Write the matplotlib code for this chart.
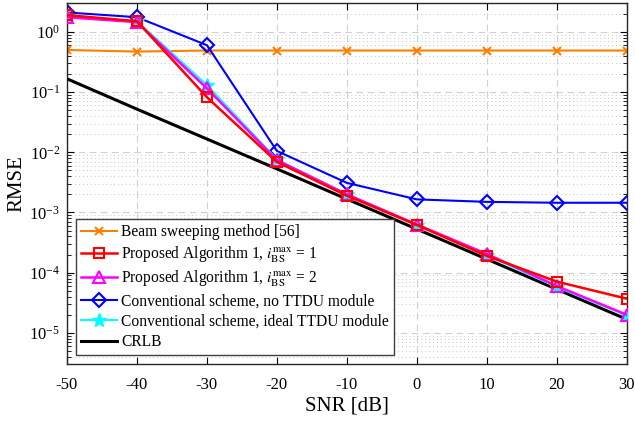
import numpy as np
import matplotlib.pyplot as plt
from matplotlib.ticker import LogLocator, NullFormatter

plt.rcParams['font.family'] = ['Liberation Serif', 'DejaVu Serif']
plt.rcParams['mathtext.fontset'] = 'stix'

snr = [-50, -40, -30, -20, -10, 0, 10, 20, 30]
beam_sweep = [0.5, 0.47, 0.49, 0.49, 0.49, 0.49, 0.49, 0.49, 0.49]
alg1_i1 = [1.9, 1.5, 0.082, 0.0069, 0.0019, 6.2e-4, 1.9e-4, 7.1e-5, 3.7e-5]
alg1_i2 = [1.75, 1.45, 0.115, 0.0074, 0.002, 6.3e-4, 2.05e-4, 6.0e-5, 2.0e-5]
conv_no_ttdu = [2.1, 1.75, 0.6, 0.0105, 0.0031, 0.00165, 0.0015, 0.00145, 0.00145]
conv_ideal = [1.8, 1.5, 0.13, 0.0076, 0.002, 6.2e-4, 1.95e-4, 5.8e-5, 1.95e-5]
crlb = [0.166, 0.052, 0.0166, 0.0053, 0.00167, 5.3e-4, 1.68e-4, 5.3e-5, 1.68e-5]
yticks = [1e-5, 1e-4, 1e-3, 1e-2, 1e-1, 1e0]

fig = plt.figure(figsize=(6.35, 4.22), dpi=100)
ax = fig.add_axes([0.1055, 0.137, 0.8815, 0.856])

ax.semilogy(snr, beam_sweep, color='#FF8000', marker='x', ms=6, mew=1.5, lw=1.5,
            label='Beam sweeping method [56]')
ax.semilogy(snr, alg1_i1, color='red', marker='s', ms=7, mfc='none', mew=1.5, lw=1.8,
            label=r'Proposed Algorithm 1, $i_{\rm BS}^{\rm max}$ = 1', zorder=5)
ax.semilogy(snr, alg1_i2, color='magenta', marker='^', ms=8, mfc='none', mew=1.5, lw=1.8,
            label=r'Proposed Algorithm 1, $i_{\rm BS}^{\rm max}$ = 2', zorder=4)
ax.semilogy(snr, conv_no_ttdu, color='blue', marker='D', ms=7, mfc='none', mew=1.5, lw=1.5,
            label='Conventional scheme, no TTDU module')
ax.semilogy(snr, conv_ideal, color='cyan', marker='*', ms=10, lw=1.5,
            label='Conventional scheme, ideal TTDU module', zorder=3)
ax.semilogy(snr, crlb, color='black', lw=2.2, label='CRLB', zorder=2)

ax.set_xlim(-50, 30)
ax.set_ylim(10**-5.52, 10**0.48)
ax.set_xticks(snr)
ax.set_xticklabels([str(s) for s in snr])
ax.set_yticks(yticks)
ax.yaxis.set_minor_locator(LogLocator(base=10, subs=np.arange(2, 10), numticks=12))
ax.yaxis.set_minor_formatter(NullFormatter())

ax.grid(True, which='major', linestyle=(0, (6, 4)), color='#d0d0d0', lw=0.8)
ax.grid(True, which='minor', axis='y', linestyle=(0, (1, 3)), color='#c8c8c8', lw=0.7)
ax.tick_params(which='both', direction='in', top=True, right=True, labelsize=12)
ax.tick_params(which='major', length=5)
ax.tick_params(which='minor', length=3)
ax.tick_params(axis='x', pad=9)
ax.tick_params(axis='y', pad=5)
for sp in ax.spines.values():
    sp.set_linewidth(1.0)
    sp.set_color('#262626')

ax.set_xlabel('SNR [dB]', fontsize=15, labelpad=3)
ax.set_ylabel('RMSE', fontsize=15, labelpad=2)

leg = ax.legend(loc='lower left', fontsize=11.2, handlelength=2.3, handletextpad=0.3,
                labelspacing=0.28, borderpad=0.3, borderaxespad=0.6, fancybox=False,
                framealpha=1, edgecolor='#404040')
leg.get_frame().set_linewidth(1.0)

fig.savefig('out.png', dpi=100)
